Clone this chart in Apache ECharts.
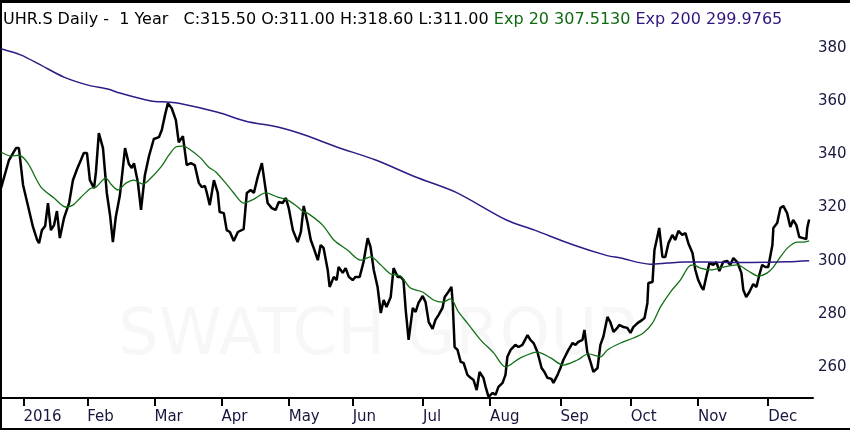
<!DOCTYPE html>
<html>
<head>
    <meta charset="utf-8">
    <title>UHR.S Daily</title>
    <script src="https://cdn.jsdelivr.net/npm/echarts@6/dist/echarts.min.js"></script>
    <style>
        html, body { margin: 0; padding: 0; background: #fff; }
        #chart { width: 850px; height: 430px; }
    </style>
</head>
<body>
    <div id="chart"></div>
    <script>
        // x is the trading-day index counted from the first bar on the left
        var monthDays = [7, 27, 48, 69, 90, 110, 132, 153, 175, 197, 218, 240];
        var monthLabels = ['2016', 'Feb', 'Mar', 'Apr', 'May', 'Jun', 'Jul', 'Aug', 'Sep', 'Oct', 'Nov', 'Dec'];
        var priceTicks = [260, 280, 300, 320, 340, 360, 380];

        // daily close
        var priceDays = [0, 2.5, 4.7, 5.6, 6.9, 8.4, 10, 11.3, 11.9, 12.8, 13.8, 14.7, 15.6, 16.6, 17.5, 18.4, 19.7, 21.3,
            22.5, 23.8, 25, 25.9, 26.9, 27.8, 29.1, 29.7, 30.6, 31.9, 33.1, 34.1, 35, 35.9, 37.2, 38.8, 40, 40.9, 41.6,
            42.8, 43.8, 45, 46.3, 47.8, 49.4, 50.3, 51.3, 52.2, 53.4, 54.7, 55.6, 56.9, 58.1, 59.4, 60.6, 61.9, 62.8,
            63.8, 64.4, 65.3, 66.6, 67.8, 68.4, 69.7, 70.6, 71.6, 72.8, 74.1, 75.9, 76.9, 78.1, 79.1, 80.3, 81.6, 82.5,
            83.4, 84.7, 85.9, 86.9, 88.1, 89.1, 90, 91.3, 92.8, 93.8, 94.7, 95.9, 96.9, 97.8, 99.1, 100, 100.9, 102.2,
            102.8, 104.1, 105, 105.6, 106.9, 107.8, 108.8, 110, 110.9, 112.2, 113.4, 114.7, 115.6, 116.6, 117.8, 118.8,
            119.7, 120.6, 121.9, 122.8, 124.1, 125, 125.9, 126.6, 127.5, 128.8, 129.7, 130.6, 131.9, 132.8, 133.8, 135,
            135.9, 136.9, 138.1, 138.8, 139.7, 140.9, 141.3, 141.9, 142.8, 143.8, 144.7, 145.9, 146.9, 147.8, 148.8,
            149.7, 150.9, 151.6, 152.5, 153.8, 154.7, 155.6, 156.9, 157.8, 158.4, 159.4, 160.9, 161.9, 163.1, 164.7,
            165.6, 166.6, 167.8, 169.1, 170, 170.9, 172.2, 172.8, 174.1, 175, 175.9, 177.5, 178.8, 179.7, 180.6, 181.9,
            182.5, 183.4, 184.4, 185.3, 186.6, 187.5, 188.4, 189.7, 190.6, 191.6, 192.8, 193.4, 194.7, 195.9, 196.9,
            197.8, 199.1, 200.6, 201.3, 202.2, 202.5, 203.8, 204.4, 205.3, 205.9, 206.9, 207.8, 208.8, 210, 210.9,
            211.9, 213.1, 214.1, 215, 216.3, 217.2, 218.1, 219.1, 219.7, 220.6, 221.6, 222.8, 223.8, 224.7, 225.9,
            227.2, 228.1, 229.1, 230.3, 231.6, 232.2, 233.1, 234.1, 235.3, 236.3, 237.2, 238.1, 239.1, 240, 241.3,
            241.6, 242.8, 243.8, 244.7, 245.9, 246.9, 247.8, 248.8, 249.7, 250.9, 251.9, 252.2, 252.8];
        var priceValues = [327.3, 337.9, 342.4, 342.4, 328.5, 320.9, 312.7, 307.8, 306.6, 311.5, 313.0, 321.7, 311.5, 313.4,
            318.7, 308.5, 316.0, 321.7, 330.3, 334.5, 337.9, 340.5, 340.5, 330.3, 327.3, 333.4, 348.0, 342.4, 325.5,
            317.2, 307.0, 316.4, 324.7, 342.4, 336.4, 334.9, 336.7, 329.6, 319.1, 332.2, 339.4, 345.8, 346.5, 349.2,
            354.8, 359.3, 357.4, 352.9, 344.6, 346.9, 336.0, 336.7, 336.0, 329.2, 327.7, 328.1, 325.5, 320.9, 330.3,
            325.5, 318.3, 317.9, 311.5, 310.8, 307.4, 310.8, 311.9, 325.5, 326.6, 325.5, 331.5, 336.7, 329.2, 321.7,
            319.8, 319.1, 322.1, 321.7, 323.6, 319.8, 311.5, 307.0, 310.8, 320.6, 314.2, 307.8, 304.8, 300.2, 305.9,
            304.8, 296.5, 290.1, 293.9, 292.7, 297.6, 295.4, 297.2, 293.9, 292.7, 293.9, 293.9, 299.5, 308.5, 305.1,
            296.5, 290.1, 280.3, 285.2, 282.6, 286.3, 297.2, 293.9, 293.9, 292.7, 281.4, 270.2, 282.2, 280.7, 284.1,
            286.7, 284.4, 276.9, 274.3, 277.7, 279.6, 282.2, 286.3, 287.8, 290.1, 284.1, 267.5, 266.4, 261.9, 261.5,
            257.0, 255.9, 255.1, 251.3, 258.1, 255.9, 252.5, 248.7, 250.2, 249.5, 252.5, 254.0, 257.0, 263.8, 266.4,
            268.3, 267.5, 268.3, 272.0, 270.2, 269.0, 265.6, 259.6, 258.1, 255.9, 255.5, 254.0, 257.0, 259.6, 262.6,
            266.4, 269.0, 268.3, 269.4, 270.2, 273.9, 265.6, 261.9, 258.1, 259.6, 268.3, 271.3, 278.8, 276.9, 273.2,
            274.7, 275.8, 275.0, 274.7, 272.8, 275.0, 276.5, 277.7, 278.4, 284.1, 291.6, 292.0, 304.0, 308.9, 312.3,
            301.4, 301.4, 306.6, 309.7, 307.8, 311.2, 309.7, 310.4, 306.6, 302.9, 296.5, 292.7, 290.1, 289.0, 293.9,
            299.1, 298.4, 299.5, 296.1, 299.5, 299.9, 298.4, 301.0, 299.5, 295.4, 289.0, 286.3, 288.2, 291.2, 290.1,
            294.6, 298.4, 297.6, 297.6, 305.9, 312.3, 314.2, 319.8, 320.6, 317.9, 312.7, 315.3, 313.4, 308.9, 308.5,
            308.1, 312.3, 315.5];

        // Exp 20 (green)
        var ema20Days = [0, 3.1, 5.6, 8.4, 12.5, 16.6, 20.3, 22.5, 25, 28.1, 29.7, 32.8, 34.4, 36.6, 39.1, 41.6, 44.4,
            46.9, 50, 52.5, 54.7, 56.9, 59.4, 62.5, 65, 67.2, 70.3, 72.8, 75.9, 79.1, 82.8, 86.6, 89.7, 92.8, 94.7,
            95.9, 100.6, 104.1, 108.4, 112.5, 115.6, 118.8, 121.9, 125, 128.1, 131.9, 135.3, 138.1, 140.6, 143.1,
            145.9, 150, 154.1, 157.8, 162.5, 167.8, 171.9, 175.9, 180.3, 183.8, 187.5, 189.7, 193.8, 197.8, 200.9,
            203.8, 206.3, 209.4, 212.5, 215, 216.6, 218.8, 221.9, 225.9, 230.3, 233.8, 236.9, 239.7, 241.6, 243.8,
            246.3, 249.1, 250.9, 252.8];
        var ema20Values = [340.9, 339.4, 339.7, 336.7, 327.7, 323.6, 320.2, 320.9, 323.9, 327.3, 327.7, 331.1, 328.8,
            326.6, 329.2, 330.3, 328.8, 331.1, 335.2, 339.7, 342.8, 343.1, 341.6, 338.6, 335.2, 333.4, 329.2, 325.5,
            321.7, 323.2, 325.5, 323.9, 322.8, 320.2, 318.3, 317.9, 313.4, 307.8, 304.0, 300.2, 301.4, 298.4, 295.0,
            294.2, 289.7, 288.2, 285.2, 284.4, 285.6, 280.7, 276.5, 270.2, 265.3, 260.0, 263.4, 265.6, 263.4, 260.7,
            262.6, 264.9, 263.8, 266.4, 269.0, 270.9, 272.8, 276.5, 282.6, 288.2, 292.7, 297.6, 298.4, 297.2, 296.5,
            297.6, 298.4, 296.1, 294.2, 295.4, 297.6, 301.4, 305.1, 307.0, 307.0, 307.5];

        // Exp 200 (purple)
        var ema200Days = [0, 6.3, 12.5, 19.7, 27.2, 33.4, 37.2, 46.9, 51.9, 55.6, 67.8, 76.6, 86.6, 95, 105, 117.2,
            129.7, 142.2, 158.1, 166.9, 179.1, 189.1, 193.8, 203.1, 208.4, 213.4, 220.3, 229.1, 239.7, 246, 252.8];
        var ema200Values = [379.8, 377.4, 373.6, 369.1, 366.1, 364.6, 363.1, 360.1, 359.7, 359.3, 355.9, 352.5, 350.3,
            347.3, 342.8, 337.9, 331.5, 325.8, 315.3, 311.5, 305.9, 302.1, 301.0, 298.7, 299.1, 299.5, 299.5, 299.3,
            299.4, 299.6, 300.0];

        function pairs(xs, ys) {
            return xs.map((x, i) => [x, ys[i]]);
        }

        var labelColor = '#17173f';
        var titleFont = { fontSize: 16, fontWeight: 'normal', fontFamily: 'DejaVu Sans' };
        var chart = echarts.init(document.getElementById('chart'));
        var option = {
            animation: false,
            backgroundColor: '#fff',
            title: {
                left: 3,
                top: 12,
                padding: 0,
                text: '{k|UHR.S Daily -  1 Year   C:315.50 O:311.00 H:318.60 L:311.00 }{g|Exp 20 307.5130 }{p|Exp 200 299.9765}',
                textStyle: {
                    fontWeight: 'normal',
                    rich: {
                        k: Object.assign({ color: '#000' }, titleFont),
                        g: Object.assign({ color: '#0f6a12' }, titleFont),
                        p: Object.assign({ color: '#33157f' }, titleFont)
                    }
                }
            },
            grid: { left: 1, right: 37, top: 28, bottom: 32 },
            xAxis: {
                type: 'value',
                min: 0,
                max: 254,
                splitLine: { show: false },
                axisLine: { show: true, onZero: false, lineStyle: { color: '#000', width: 2 } },
                axisTick: { show: true, customValues: monthDays, length: 8, lineStyle: { color: '#000', width: 2 } },
                axisLabel: {
                    customValues: monthDays,
                    formatter: v => monthLabels[monthDays.indexOf(v)] || '',
                    align: 'left',
                    margin: 12,
                    color: labelColor,
                    fontSize: 15,
                    fontFamily: 'DejaVu Sans'
                }
            },
            yAxis: {
                type: 'value',
                position: 'right',
                min: 248.3,
                max: 387.6,
                splitLine: { show: false },
                axisLine: { show: true, lineStyle: { color: '#000', width: 2 } },
                axisTick: { show: false },
                axisLabel: {
                    customValues: priceTicks,
                    margin: 5,
                    color: labelColor,
                    fontSize: 15,
                    fontFamily: 'DejaVu Sans'
                }
            },
            graphic: [
                { type: 'rect', shape: { x: 0, y: 0, width: 850, height: 3 }, style: { fill: '#000' } },
                { type: 'rect', shape: { x: 0, y: 0, width: 2, height: 430 }, style: { fill: '#000' } },
                { type: 'rect', shape: { x: 0, y: 428, width: 850, height: 2 }, style: { fill: '#000' } },
                {
                    type: 'text', left: 118, top: 305, z: -1,
                    style: { text: 'SWATCH GROUP', fill: '#f7f7f7', fontSize: 64, fontFamily: 'DejaVu Sans' }
                }
            ],
            series: [
                {
                    name: 'Close',
                    type: 'line',
                    data: pairs(priceDays, priceValues),
                    symbol: 'none',
                    lineStyle: { color: '#000', width: 2.5 },
                    z: 3
                },
                {
                    name: 'Exp 20',
                    type: 'line',
                    data: pairs(ema20Days, ema20Values),
                    symbol: 'none',
                    smooth: 0.3,
                    lineStyle: { color: '#137016', width: 1.3 },
                    z: 4
                },
                {
                    name: 'Exp 200',
                    type: 'line',
                    data: pairs(ema200Days, ema200Values),
                    symbol: 'none',
                    smooth: 0.3,
                    lineStyle: { color: '#2f1a88', width: 1.5 },
                    z: 4
                }
            ]
        };
        chart.setOption(option);
    </script>
</body>
</html>
